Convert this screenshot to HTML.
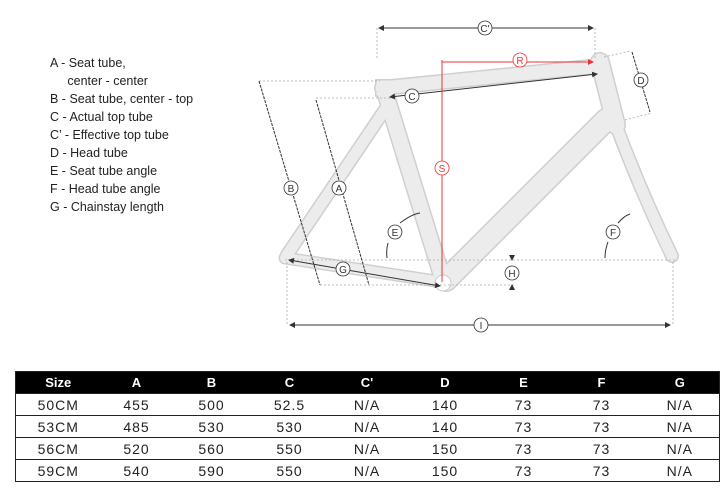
<!DOCTYPE html>
<html><head><meta charset="utf-8"><style>
html,body{margin:0;padding:0;background:#fff;width:726px;height:496px;overflow:hidden;font-family:"Liberation Sans",sans-serif}
.leg{position:absolute;left:50px;top:54px;font-size:12.5px;line-height:18px;color:#222}
table{position:absolute;left:15px;top:371px;width:704px;border-collapse:collapse;font-size:14px;letter-spacing:1px;table-layout:fixed;border:1.5px solid #222}
th{background:#000;color:#fff;height:21px;font-weight:bold;font-size:13px;letter-spacing:0;padding:0}
td{height:21px;border-top:1.5px solid #222;text-align:center;color:#222;padding:0}
</style></head><body>
<svg width="726" height="496" style="position:absolute;left:0;top:0">
<defs><marker id="a" markerWidth="6" markerHeight="6" refX="5" refY="3" orient="auto-start-reverse"><path d="M0,0L6,3L0,6z" fill="#333"/></marker>
<marker id="r" markerWidth="6" markerHeight="6" refX="5" refY="3" orient="auto-start-reverse"><path d="M0,0L6,3L0,6z" fill="#e33"/></marker></defs>
<g stroke="#cfcfcf" stroke-linecap="round" stroke-linejoin="round" fill="none">
<line x1="382" y1="88" x2="600" y2="66" stroke-width="16"/>
<line x1="600" y1="62" x2="616" y2="125" stroke-width="20"/>
<path d="M614,120 Q640,190 672,256" stroke-width="14"/>
<line x1="606" y1="120" x2="446" y2="280" stroke-width="24"/>
<line x1="385" y1="92" x2="443" y2="280" stroke-width="18"/>
<line x1="388" y1="105" x2="287" y2="255" stroke-width="14"/>
<line x1="285" y1="258" x2="442" y2="282" stroke-width="13"/>
<rect x="376" y="80" width="14" height="16" stroke-width="2"/>
</g>
<g stroke="#ececec" stroke-linecap="round" stroke-linejoin="round" fill="none">
<line x1="382" y1="88" x2="600" y2="66" stroke-width="13"/>
<line x1="600" y1="62" x2="616" y2="125" stroke-width="17"/>
<path d="M614,120 Q640,190 672,256" stroke-width="11"/>
<line x1="606" y1="120" x2="446" y2="280" stroke-width="21"/>
<line x1="385" y1="92" x2="443" y2="280" stroke-width="15"/>
<line x1="388" y1="105" x2="287" y2="255" stroke-width="11"/>
<line x1="285" y1="258" x2="442" y2="282" stroke-width="10"/>
<rect x="377" y="81" width="12" height="14" fill="#ececec" stroke-width="1"/>
</g>
<circle cx="443" cy="283" r="8" fill="#fff" stroke="#ccc"/>
<g stroke="#aaa" stroke-width="0.8" stroke-dasharray="2,2" fill="none">
<line x1="377" y1="28" x2="377" y2="60"/><line x1="595" y1="28" x2="595" y2="60"/>
<line x1="259" y1="81" x2="380" y2="81"/><line x1="316" y1="98" x2="390" y2="98"/>
<line x1="285" y1="260" x2="676" y2="260"/><line x1="320" y1="285" x2="515" y2="285"/>
<line x1="287" y1="262" x2="287" y2="325"/><line x1="673" y1="262" x2="673" y2="325"/>
<line x1="604" y1="57" x2="630" y2="51"/><line x1="625" y1="120" x2="652" y2="113"/>
</g>
<g stroke="#333" stroke-width="1" fill="none">
<line x1="379" y1="28" x2="593" y2="28" marker-start="url(#a)" marker-end="url(#a)"/>
<line x1="390" y1="97" x2="597" y2="74" marker-start="url(#a)" marker-end="url(#a)"/>
<line x1="632" y1="52" x2="650" y2="112" stroke-dasharray="3,1"/>
<line x1="259" y1="81" x2="320" y2="285" stroke-dasharray="3,1"/>
<line x1="316" y1="100" x2="369" y2="285" stroke-dasharray="3,1"/>
<line x1="289" y1="260" x2="440" y2="286" marker-start="url(#a)" marker-end="url(#a)"/>
<line x1="290" y1="325" x2="670" y2="325" marker-start="url(#a)" marker-end="url(#a)"/>
<line x1="512" y1="255" x2="512" y2="260" marker-end="url(#a)"/>
<line x1="512" y1="290" x2="512" y2="285" marker-end="url(#a)"/>
<path d="M400,223 Q412,214 420,213"/><path d="M388,243 Q386,250 387,258"/>
<path d="M618,223 Q624,216 630,214"/><path d="M608,242 Q605,250 605,258"/>
</g>
<line x1="442" y1="62" x2="593" y2="62" stroke="#e33" stroke-width="1" marker-end="url(#r)"/>
<line x1="442" y1="60" x2="442" y2="282" stroke="#e33" stroke-width="1"/>
<g font-size="10" text-anchor="middle" fill="#333">
<g stroke="#333" fill="#fff" stroke-width="0.8">
<circle cx="485" cy="28" r="7"/><circle cx="412" cy="96" r="7"/><circle cx="641" cy="80" r="7"/>
<circle cx="291" cy="188" r="7"/><circle cx="339" cy="188" r="7"/><circle cx="395" cy="232" r="7"/>
<circle cx="613" cy="232" r="7"/><circle cx="343" cy="269" r="7"/><circle cx="512" cy="273" r="7"/>
<circle cx="481" cy="325" r="7"/></g>
<g stroke="#e33" fill="#fff" stroke-width="0.8"><circle cx="520" cy="60" r="7"/><circle cx="442" cy="168" r="7"/></g>
<text x="485" y="32">C'</text><text x="412" y="100">C</text><text x="641" y="84">D</text>
<text x="291" y="192">B</text><text x="339" y="192">A</text><text x="395" y="236">E</text>
<text x="613" y="236">F</text><text x="343" y="273">G</text><text x="512" y="277">H</text>
<text x="481" y="329">I</text>
<text x="520" y="64" fill="#e33">R</text><text x="442" y="172" fill="#e33">S</text>
</g>
</svg>
<div class="leg">A - Seat tube,<br>&nbsp;&nbsp;&nbsp;&nbsp;&nbsp;center - center<br>B - Seat tube, center - top<br>C - Actual top tube<br>C’ - Effective top tube<br>D - Head tube<br>E - Seat tube angle<br>F - Head tube angle<br>G - Chainstay length</div>
<table>
<colgroup><col style="width:85px"><col style="width:72px"><col style="width:78px"><col style="width:78px"><col style="width:77px"><col style="width:79px"><col style="width:78px"><col style="width:78px"><col style="width:79px"></colgroup>
<tr><th>Size</th><th>A</th><th>B</th><th>C</th><th>C'</th><th>D</th><th>E</th><th>F</th><th>G</th></tr>
<tr><td>50CM</td><td>455</td><td>500</td><td>52.5</td><td>N/A</td><td>140</td><td>73</td><td>73</td><td>N/A</td></tr>
<tr><td>53CM</td><td>485</td><td>530</td><td>530</td><td>N/A</td><td>140</td><td>73</td><td>73</td><td>N/A</td></tr>
<tr><td>56CM</td><td>520</td><td>560</td><td>550</td><td>N/A</td><td>150</td><td>73</td><td>73</td><td>N/A</td></tr>
<tr><td>59CM</td><td>540</td><td>590</td><td>550</td><td>N/A</td><td>150</td><td>73</td><td>73</td><td>N/A</td></tr>
</table>
</body></html>
